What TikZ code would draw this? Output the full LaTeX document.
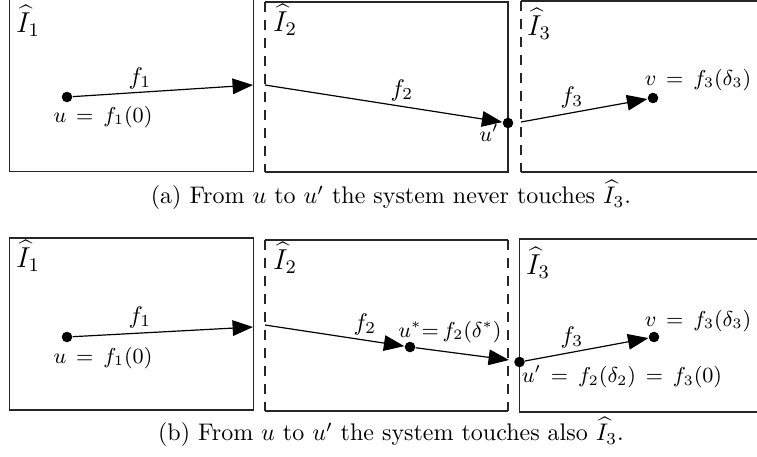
\documentclass[tikz,border=0pt]{standalone}
\usetikzlibrary{arrows.meta}
\begin{document}
\begin{tikzpicture}[x=0.4167pt,y=-0.4167pt,
  box/.style={line width=0.6pt, draw=black!85},
  dsh/.style={line width=0.6pt, draw=black!85, dash pattern=on 4pt off 3.5pt},
  arr/.style={line width=0.5pt, -{Triangle[length=8.5pt,width=6.5pt]}},
  dot/.style={circle, fill=black, inner sep=0pt, minimum size=4.4pt},
  blab/.style={font=\large},
  flab/.style={font=\normalsize},
  slab/.style={font=\small}]
\clip (0,0) rectangle (757,456);
% ---- panel (a) boxes
\draw[box] (9.5,-5) rectangle (253.5,171.5);
\draw[box] (265,2) -- (508,2) -- (508,172) -- (265,172);
\draw[dsh] (265,2) -- (265,172);
\draw[box] (790,1) -- (521,1);
\draw[box] (521,172) -- (790,172);
\draw[dsh] (521,1) -- (521,172);
% ---- panel (b) boxes
\draw[box] (9.5,238) rectangle (253.5,410);
\draw[box] (265,240) -- (508,240);
\draw[box] (265,411) -- (508,411);
\draw[dsh] (265,240) -- (265,411);
\draw[dsh] (508,240) -- (508,411);
\draw[box] (790,239) -- (519.5,239) -- (519.5,412) -- (790,412);
% ---- panel (a) points and arrows
\node[dot] (ua) at (67,97) {};
\coordinate (a1) at (253,85);
\coordinate (a2) at (265,85);
\node[dot] (upa) at (508,123) {};
\coordinate (a3) at (521,122);
\node[dot] (va) at (653,98) {};
\draw[arr] (ua) -- (a1);
\draw[arr] (a2) -- (upa);
\draw[arr] (a3) -- (va);
% ---- panel (a) labels
\node[blab] (I1a) at (28,21) {$\widehat{I}_1$};
\node[blab] (I2a) at (285,20) {$\widehat{I}_2$};
\node[blab] (I3a) at (539,24) {$\widehat{I}_3$};
\node[flab] (f1a) at (140,78) {$f_1$};
\node[slab] (ula) at (103,117) {$u \,=\, f_1(0)$};
\node[flab] (f2a) at (402,90) {$f_2$};
\node[slab] (upla) at (489,133) {$u'$};
\node[flab] (f3a) at (572,97) {$f_3$};
\node[slab] (vla) at (698,80) {$v \,=\, f_3(\delta_3)$};
\node (capa) at (391,195) {(a) From $u$ to $u'$ the system never touches $\widehat{I}_3$.};
% ---- panel (b) points and arrows
\node[dot] (ub) at (67,337) {};
\coordinate (b1) at (253,327);
\coordinate (b2) at (265,325);
\node[dot] (usb) at (410,347) {};
\coordinate (b3) at (509,360);
\node[dot] (upb) at (519.5,362) {};
\node[dot] (vb) at (654,337) {};
\draw[arr] (ub) -- (b1);
\draw[arr] (b2) -- (usb);
\draw[arr] (usb) -- (b3);
\draw[arr] (upb) -- (vb);
% ---- panel (b) labels
\node[blab] (I1b) at (28,256) {$\widehat{I}_1$};
\node[blab] (I2b) at (285,258) {$\widehat{I}_2$};
\node[blab] (I3b) at (538,263) {$\widehat{I}_3$};
\node[flab] (f1b) at (140,317) {$f_1$};
\node[slab] (ulb) at (103,358) {$u \,=\, f_1(0)$};
\node[flab] (f2b) at (365,324) {$f_2$};
\node[slab] (usl) at (450,332) {$u^{*}{=}\,f_2(\delta^{*})$};
\node[flab] (f3b) at (572,337) {$f_3$};
\node[slab] (vlb) at (698,321) {$v \,=\, f_3(\delta_3)$};
\node[slab] (uplb) at (622,377) {$u' \,=\, f_2(\delta_2) \,=\, f_3(0)$};
\node (capb) at (391,432) {(b) From $u$ to $u'$ the system touches also $\widehat{I}_3$.};
\end{tikzpicture}
\end{document}
